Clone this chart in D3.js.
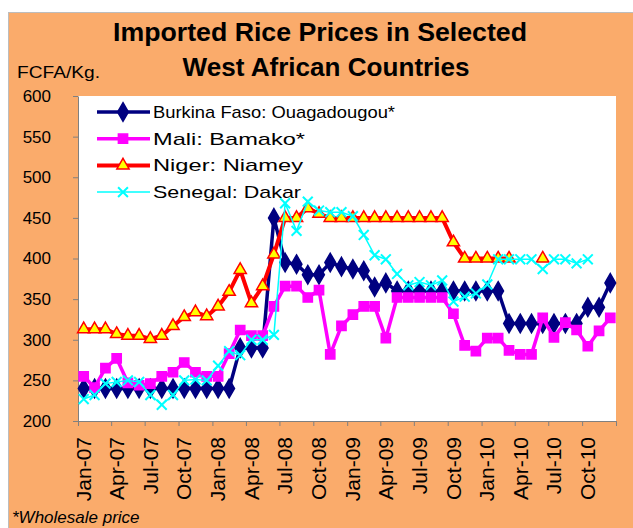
<!DOCTYPE html>
<html>
<head>
<meta charset="utf-8">
<script src="https://cdn.jsdelivr.net/npm/d3@7"></script>
<style>
  body { margin: 0; background: #fff; }
  svg { display: block; font-family: "Liberation Sans", Arial, sans-serif; }
</style>
</head>
<body>
<div id="chart"></div>
<script>
// monthly prices, Jan-07 .. Dec-10 (null = no quote)
const firstMonth = new Date(2007, 0, 1);
const lastMonth = new Date(2011, 0, 1);
const tickLabels = ["Jan-07", "Apr-07", "Jul-07", "Oct-07", "Jan-08", "Apr-08", "Jul-08", "Oct-08",
  "Jan-09", "Apr-09", "Jul-09", "Oct-09", "Jan-10", "Apr-10", "Jul-10", "Oct-10"];
const yTicks = [200, 250, 300, 350, 400, 450, 500, 550, 600];

const burkina = [240, 240, 240, 240, 240, 240, 240, 240, 240, 240, 240, 240, 240, 240,
  290, 290, 290, 450, 395, 393, 380, 380, 395, 390, 387, 385, 365, 370,
  360, 360, 360, 360, 360, 360, 360, 360, 360, 360,
  320, 320, 320, 320, 320, 320, 320, 340, 340, 370];
const mali = [255, 241, 265, 277, 247, 244, 246, 255, 260, 272, 260, 255, 255, 283,
  312, 305, 305, 341, 366, 366, 352, 361, 282, 317, 331, 341, 341, 302,
  352, 352, 352, 352, 352, 332, 293, 286, 302, 302,
  287, 282, 282, 327, 303, 321, 312, 292, 311, 327];
const niger = [313, 313, 313, 307, 305, 305, 301, 305, 317, 328, 334, 329, 341, 359,
  386, 345, 366, 405, 450, 450, 462, 455, 450, 450, 450, 450, 450, 450,
  450, 450, 450, 450, 450, 420, 400, 400, 400, 400,
  400, null, null, 400, null, null, null, null, null, null];
const senegal = [227, 232, 246, 248, 250, 248, 232, 220, 232, 250, 251, 250, 268, 286,
  281, 300, 300, 306, 468, 434, 470, 459, 457, 457, 452, 429, 404, 399,
  381, 367, 371, 367, 373, 347, 353, 357, 368, 399,
  399, 399, 399, 387, 399, 399, 394, 399, null, null];

const seriesNames = ["Burkina Faso: Ouagadougou*", "Mali: Bamako*", "Niger: Niamey", "Senegal: Dakar"];

const W = 633, H = 528;
const orange = "#FAAB6B";
const plot = { left: 78, right: 616, top: 96, bottom: 421 };

const svg = d3.select("#chart").append("svg")
  .attr("width", W)
  .attr("height", H);

// chart area
svg.append("rect")
  .attr("x", 8.5).attr("y", 12.5)
  .attr("width", W).attr("height", H)
  .attr("fill", orange)
  .attr("stroke", "#bdbdbd");

svg.append("rect")
  .attr("x", plot.left).attr("y", plot.top)
  .attr("width", plot.right - plot.left).attr("height", plot.bottom - plot.top)
  .attr("fill", "#fff");

// title
svg.append("text")
  .attr("x", 320).attr("y", 41)
  .attr("text-anchor", "middle")
  .attr("font-size", 26).attr("font-weight", "bold")
  .attr("textLength", 414).attr("lengthAdjust", "spacingAndGlyphs")
  .text("Imported Rice Prices in Selected");
svg.append("text")
  .attr("x", 326).attr("y", 76)
  .attr("text-anchor", "middle")
  .attr("font-size", 26).attr("font-weight", "bold")
  .attr("textLength", 287).attr("lengthAdjust", "spacingAndGlyphs")
  .text("West African Countries");

svg.append("text")
  .attr("x", 17).attr("y", 78)
  .attr("font-size", 17)
  .attr("textLength", 83).attr("lengthAdjust", "spacingAndGlyphs")
  .text("FCFA/Kg.");

svg.append("text")
  .attr("x", 12).attr("y", 523)
  .attr("font-size", 17).attr("font-style", "italic")
  .text("*Wholesale price");

// scales
let x = d3.scaleTime()
  .domain([firstMonth, lastMonth])
  .range([plot.left, plot.right]);
let y = d3.scaleLinear()
  .domain([200, 600])
  .range([plot.bottom, plot.top]);

const months = d3.timeMonth.range(firstMonth, lastMonth);
// points sit in the middle of each month
const mid = d => (x(d) + x(d3.timeMonth.offset(d, 1))) / 2;

// axes
const quarters = d3.timeMonth.every(3).range(firstMonth, d3.timeDay.offset(lastMonth, 1));
let xAxis = svg.append("g")
  .attr("transform", "translate(0," + plot.bottom + ")")
  .call(d3.axisBottom(x).tickValues(quarters).tickSize(5).tickSizeOuter(0)
    .tickFormat((d, i) => tickLabels[i] || ""));
xAxis.select(".domain").attr("stroke", "#808080");
xAxis.selectAll(".tick line").attr("stroke", "#808080");
xAxis.selectAll(".tick text")
  .attr("font-size", 21)
  .attr("fill", "#000")
  .attr("text-anchor", "end")
  .attr("transform", "rotate(-90)")
  .attr("x", -16).attr("y", 5).attr("dy", "0.35em");

let yAxis = svg.append("g")
  .attr("transform", "translate(" + plot.left + ",0)")
  .call(d3.axisLeft(y).tickValues(yTicks).tickSize(5).tickSizeOuter(0).tickPadding(22));
yAxis.select(".domain").attr("stroke", "#808080");
yAxis.selectAll(".tick line").attr("stroke", "#808080");
yAxis.selectAll(".tick text").attr("font-size", 17).attr("fill", "#000");

// series
const series = [
  { name: seriesNames[0], values: burkina, color: "#000080", width: 3.5, symbol: d3.symbolDiamond, size: 100, fill: "#000080", stroke: "#000080" },
  { name: seriesNames[1], values: mali, color: "#FF00FF", width: 3.5, symbol: d3.symbolSquare, size: 85, fill: "#FF00FF", stroke: "#FF00FF" },
  { name: seriesNames[2], values: niger, color: "#FF0000", width: 4, symbol: d3.symbolTriangle, size: 65, fill: "#FFFF00", stroke: "#FF0000" },
  { name: seriesNames[3], values: senegal, color: "#00FFFF", width: 1.5, symbol: d3.symbolX, size: 65, fill: "none", stroke: "#00FFFF" }
];

const line = d3.line()
  .defined(d => d.v != null)
  .x(d => mid(d.date))
  .y(d => y(d.v));

series.forEach(s => {
  const pts = months.map((m, i) => ({ date: m, v: s.values[i] }));
  const g = svg.append("g");
  g.append("path")
    .attr("d", line(pts))
    .attr("fill", "none")
    .attr("stroke", s.color)
    .attr("stroke-width", s.width)
    .attr("stroke-linejoin", "round");
  g.selectAll("path.mark")
    .data(pts.filter(d => d.v != null))
    .enter()
    .append("path")
    .attr("class", "mark")
    .attr("transform", d => "translate(" + mid(d.date) + "," + y(d.v) + ")")
    .attr("d", d3.symbol().type(s.symbol).size(s.size))
    .attr("fill", s.fill)
    .attr("stroke", s.stroke)
    .attr("stroke-width", s.symbol === d3.symbolX ? 2 : 1.5);
});

// legend
let legend = svg.append("g");
const legendWidths = [242, 152, 150, 148];
series.forEach((s, i) => {
  const ly = 112 + i * 26.7;
  legend.append("line")
    .attr("x1", 97).attr("x2", 150)
    .attr("y1", ly).attr("y2", ly)
    .attr("stroke", s.color).attr("stroke-width", s.width);
  legend.append("path")
    .attr("transform", "translate(123," + ly + ")")
    .attr("d", d3.symbol().type(s.symbol).size(s.size))
    .attr("fill", s.fill)
    .attr("stroke", s.stroke)
    .attr("stroke-width", s.symbol === d3.symbolX ? 2 : 1.5);
  legend.append("text")
    .attr("x", 153).attr("y", ly)
    .attr("dy", "0.35em")
    .attr("font-size", 17)
    .attr("textLength", legendWidths[i]).attr("lengthAdjust", "spacingAndGlyphs")
    .text(s.name);
});
</script>
</body>
</html>
